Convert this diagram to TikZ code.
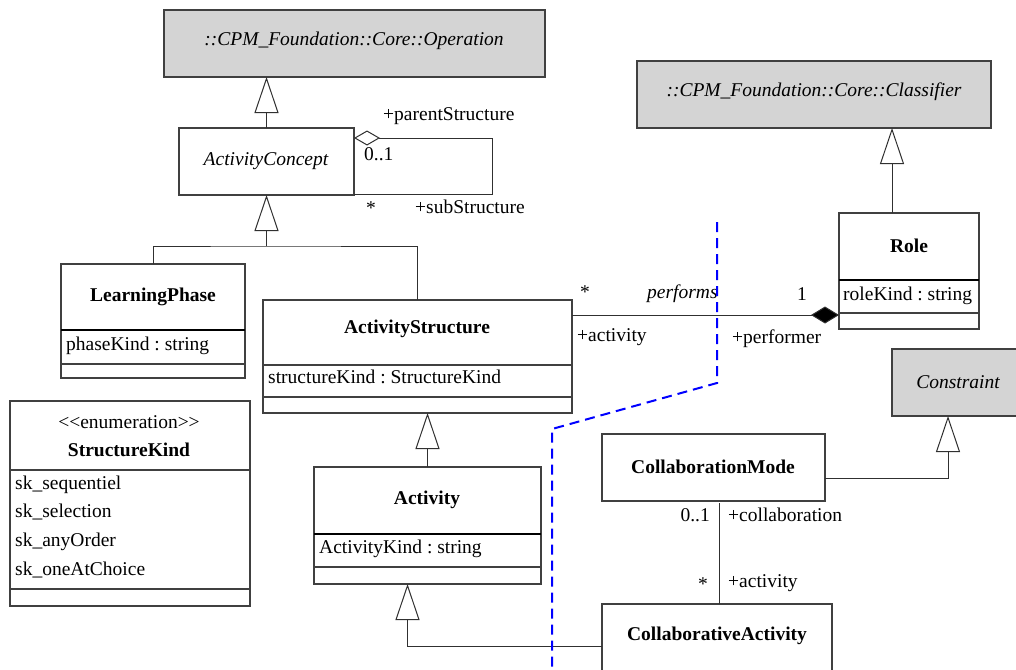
\documentclass[tikz,border=0pt]{standalone}
\usepackage{fontspec}
\setmainfont{Liberation Serif}
\usetikzlibrary{arrows.meta}
\definecolor{boxc}{HTML}{404040}
\definecolor{grayfill}{HTML}{D4D4D4}
\definecolor{linec}{HTML}{303030}
\tikzset{
  cls/.style={draw=boxc, line width=1.1pt, fill=white, anchor=north west, outer sep=0pt},
  abscls/.style={cls, fill=grayfill},
  thickdiv/.style={line width=2.2pt, black},
  thindiv/.style={line width=1.1pt, boxc},
  conn/.style={line width=1pt, linec},
  gen/.style={conn, -{Triangle[fill=white, length=36pt, width=24pt]}},
  lbl/.style={anchor=mid west},
  lblr/.style={anchor=mid east},
  clsname/.style={font=\bfseries\fontsize{19.5}{23}\selectfont},
  ital/.style={font=\itshape\fontsize{19.5}{23}\selectfont},
}
\frenchspacing
\begin{document}
\frenchspacing
\begin{tikzpicture}[x=1pt, y=-1pt, every node/.style={inner sep=0pt, font=\fontsize{19.5}{23}\selectfont}]
\fill[white] (0,0) rectangle (1016,669);
\useasboundingbox (0,0) rectangle (1016,669);

% class boxes
\node[abscls, minimum width=381pt, minimum height=67pt] (op) at (164,10) {};
\node[abscls, minimum width=354pt, minimum height=67pt] (cl) at (637,61) {};
\node[cls, minimum width=175pt, minimum height=67pt] (ac) at (179,128) {};
\node[cls, minimum width=184pt, minimum height=114pt] (lp) at (61,264) {};
\node[cls, minimum width=309pt, minimum height=113pt] (as) at (263,300) {};
\node[cls, minimum width=240pt, minimum height=205pt] (sk) at (10,401) {};
\node[cls, minimum width=227pt, minimum height=117pt] (act) at (314,467) {};
\node[cls, minimum width=140pt, minimum height=116pt] (role) at (839,213) {};
\node[cls, minimum width=223pt, minimum height=67pt] (cm) at (602,434) {};
\node[cls, minimum width=230pt, minimum height=100pt] (ca) at (602,604) {};
\node[abscls, minimum width=132pt, minimum height=67pt] (con) at (892,349) {};

% compartments
\draw[thickdiv] ([yshift=-66pt]lp.north west) -- ([yshift=-66pt]lp.north east);
\draw[thindiv] ([yshift=-100pt]lp.north west) -- ([yshift=-100pt]lp.north east);
\draw[thindiv] ([yshift=-65pt]as.north west) -- ([yshift=-65pt]as.north east);
\draw[thindiv] ([yshift=-97pt]as.north west) -- ([yshift=-97pt]as.north east);
\draw[thindiv] ([yshift=-69pt]sk.north west) -- ([yshift=-69pt]sk.north east);
\draw[thindiv] ([yshift=-188pt]sk.north west) -- ([yshift=-188pt]sk.north east);
\draw[thickdiv] ([yshift=-67pt]act.north west) -- ([yshift=-67pt]act.north east);
\draw[thindiv] ([yshift=-100pt]act.north west) -- ([yshift=-100pt]act.north east);
\draw[thickdiv] ([yshift=-67pt]role.north west) -- ([yshift=-67pt]role.north east);
\draw[thindiv] ([yshift=-100pt]role.north west) -- ([yshift=-100pt]role.north east);

% texts in boxes
\node[ital] (opt) at (354,41) {::CPM\_Foundation::Core::Operation};
\node[ital] (clt) at (814,92) {::CPM\_Foundation::Core::Classifier};
\node[ital] (act0) at (266,161) {ActivityConcept};
\node[clsname] (lpn) at (153,297) {LearningPhase};
\node[lbl] (lpa) at (66,348) {phaseKind : string};
\node[clsname] (asn) at (417,329) {ActivityStructure};
\node[lbl] (asa) at (268,381) {structureKind : StructureKind};
\node (skst) at (129,422) {<\kern0pt<enumeration>\kern0pt>};
\node[clsname] (skn) at (129,450) {StructureKind};
\node[lbl] (sk1) at (15,487) {sk\_sequentiel};
\node[lbl] (sk2) at (15,515) {sk\_selection};
\node[lbl] (sk3) at (15,544) {sk\_anyOrder};
\node[lbl] (sk4) at (15,573) {sk\_oneAtChoice};
\node[clsname] (actn) at (427,500) {Activity};
\node[lbl] (acta) at (319,551) {ActivityKind : string};
\node[clsname] (rolen) at (909,246) {Role};
\node[lbl] (rolea) at (843,298) {roleKind : string};
\node[clsname] (cmn) at (713,467) {CollaborationMode};
\node[clsname] (can) at (717,636) {CollaborativeActivity};
\node[ital] (cont) at (958,382) {Constraint};

% generalizations
\draw[gen] (ac.north) -- (ac.north |- op.south);
\path ([yshift=-51pt]ac.south) coordinate (j1);
\draw[gen] (j1) -- (ac.south);
\draw[conn] (lp.north) |- (j1) -| (as.north);
\draw[gen] (act.north) -- (act.north |- as.south);
\path ([yshift=-42pt]ca.north west) coordinate (caj);
\draw[gen] (caj) -| ([xshift=-20pt]act.south);
\path ([yshift=-10.5pt]cm.east) coordinate (cmj);
\draw[gen] (cmj) -| ([xshift=-10pt]con.south);
\draw[gen] ([xshift=-17pt]role.north) -- ([xshift=-17pt]role.north |- cl.south);

% self aggregation on ActivityConcept
\draw[conn, {Diamond[fill=white, length=26pt, width=15pt]}-] ([yshift=-10pt]ac.north east) -- ++(138,0) |- ([yshift=1pt]ac.south east);
\node[lbl] (ps) at (383,118) {+parentStructure};
\node[lbl] (ps1) at (364,158) {0..1};
\node[lbl] (ss1) at (366,212) {*};
\node[lbl] (ss) at (415,211) {+subStructure};

% performs
\path ([yshift=14pt]role.south west) coordinate (pr);
\draw[conn, {Diamond[fill=black, length=28pt, width=17pt]}-] (pr) -- (as.east |- pr);
\node[lbl] (pm1) at (580,296) {*};
\node[lbl, ital] (pf) at (647,296) {performs};
\node[lbl] (pm2) at (797,298) {1};
\node[lbl] (pra) at (577,339) {+activity};
\node[lbl] (prp) at (732,341) {+performer};

% collaboration
\draw[conn] ([xshift=5.5pt, yshift=-2pt]cm.south) -- ([xshift=5.5pt]cm.south |- ca.north);
\node[lblr] (cm1) at (710,519) {0..1};
\node[lbl] (cm2) at (728,519) {+collaboration};
\node[lblr] (ca1) at (708,588) {*};
\node[lbl] (ca2) at (728,585) {+activity};

% boundary
\draw[blue, line width=2pt, dash pattern=on 10pt off 6pt] (717,222) -- (717,383) -- (552,429) -- (552,669);
\end{tikzpicture}
\end{document}
